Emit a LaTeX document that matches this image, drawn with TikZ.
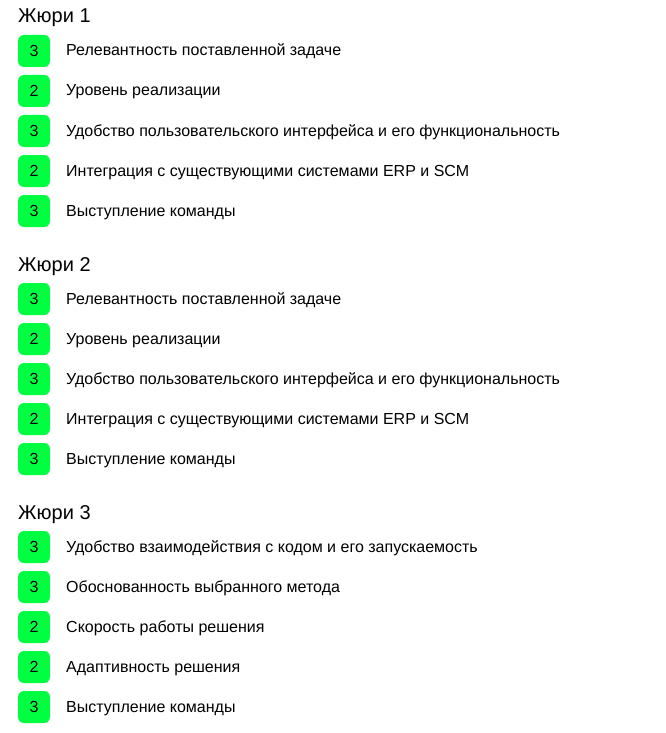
\documentclass[tikz,border=0pt]{standalone}
\usepackage{fontspec}
\setmainfont{Liberation Sans}
\definecolor{scoregreen}{RGB}{0,255,64}
\tikzset{
  scorebox/.style={fill=scoregreen, rounded corners=6pt, minimum width=32pt, minimum height=32pt, inner sep=0pt, font=\fontsize{16}{16}\selectfont, text=black},
  crit/.style={anchor=base west, inner sep=0pt, font=\fontsize{16}{16}\selectfont, text=black},
  juryhead/.style={anchor=base west, inner sep=0pt, font=\fontsize{20}{20}\selectfont, text=black}
}
\begin{document}
\begin{tikzpicture}[x=1pt,y=-1pt]
\useasboundingbox (0,0) rectangle (666,733);
\fill[white] (0,0) rectangle (666,733);
% Section 1
\node[juryhead] (h1) at (18,23) {Жюри 1};
\node[scorebox] (s11) at (34,51) {3};
\node[crit] (t11) at (66,56) {Релевантность поставленной задаче};
\node[scorebox] (s12) at (34,91) {2};
\node[crit] (t12) at (66,96) {Уровень реализации};
\node[scorebox] (s13) at (34,131) {3};
\node[crit] (t13) at (66,136) {Удобство пользовательского интерфейса и его функциональность};
\node[scorebox] (s14) at (34,171) {2};
\node[crit] (t14) at (66,176) {Интеграция с существующими системами ERP и SCM};
\node[scorebox] (s15) at (34,211) {3};
\node[crit] (t15) at (66,216) {Выступление команды};
% Section 2
\node[juryhead] (h2) at (18,271) {Жюри 2};
\node[scorebox] (s21) at (34,299) {3};
\node[crit] (t21) at (66,304) {Релевантность поставленной задаче};
\node[scorebox] (s22) at (34,339) {2};
\node[crit] (t22) at (66,344) {Уровень реализации};
\node[scorebox] (s23) at (34,379) {3};
\node[crit] (t23) at (66,384) {Удобство пользовательского интерфейса и его функциональность};
\node[scorebox] (s24) at (34,419) {2};
\node[crit] (t24) at (66,424) {Интеграция с существующими системами ERP и SCM};
\node[scorebox] (s25) at (34,459) {3};
\node[crit] (t25) at (66,464) {Выступление команды};
% Section 3
\node[juryhead] (h3) at (18,519) {Жюри 3};
\node[scorebox] (s31) at (34,547) {3};
\node[crit] (t31) at (66,552) {Удобство взаимодействия с кодом и его запускаемость};
\node[scorebox] (s32) at (34,587) {3};
\node[crit] (t32) at (66,592) {Обоснованность выбранного метода};
\node[scorebox] (s33) at (34,627) {2};
\node[crit] (t33) at (66,632) {Скорость работы решения};
\node[scorebox] (s34) at (34,667) {2};
\node[crit] (t34) at (66,672) {Адаптивность решения};
\node[scorebox] (s35) at (34,707) {3};
\node[crit] (t35) at (66,712) {Выступление команды};
\end{tikzpicture}
\end{document}
